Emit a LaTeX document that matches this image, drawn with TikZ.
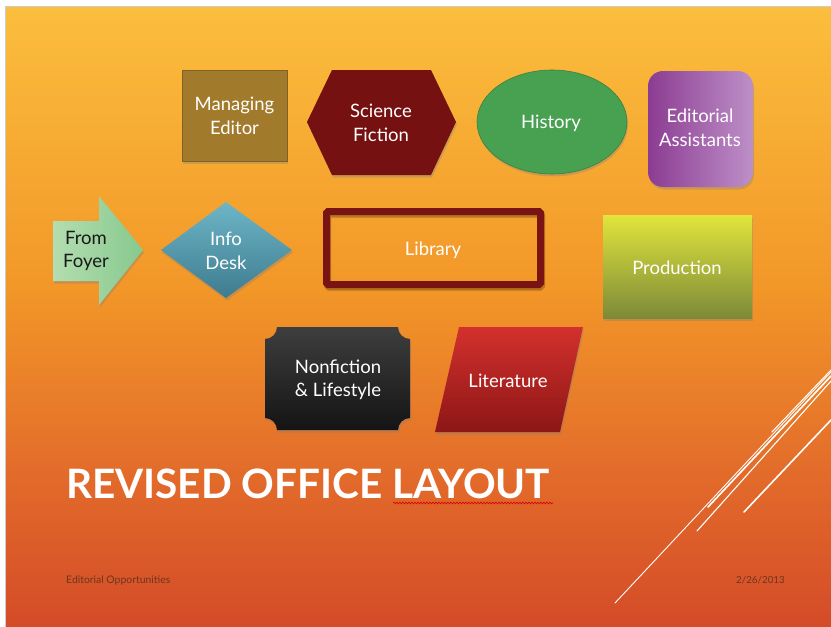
\documentclass[tikz,border=0pt]{standalone}
\usepackage{fontspec}
\setmainfont{Lato}
\usetikzlibrary{shadows,decorations.pathmorphing}
\definecolor{bgtop}{HTML}{FBBE3D}
\definecolor{bgmid}{HTML}{F29628}
\definecolor{bglow}{HTML}{E26A2A}
\definecolor{bgbot}{HTML}{D44B28}
\pgfdeclareverticalshading{slidebg}{100bp}{color(0bp)=(bgbot); color(25bp)=(bgbot); color(37bp)=(bglow); color(52bp)=(bgmid); color(75bp)=(bgtop); color(100bp)=(bgtop)}
\definecolor{mgr}{HTML}{A27A2C}
\definecolor{scifi}{HTML}{751110}
\definecolor{hist}{HTML}{47A151}
\definecolor{edA}{HTML}{8C3C92}
\definecolor{edB}{HTML}{BD90C8}
\definecolor{foyA}{HTML}{B4DDB0}
\definecolor{foyB}{HTML}{86C98E}
\definecolor{infA}{HTML}{6DB6C7}
\definecolor{infB}{HTML}{3E7B8F}
\definecolor{libr}{HTML}{7A1413}
\definecolor{prodA}{HTML}{E2E53C}
\definecolor{prodB}{HTML}{7C8A38}
\definecolor{nfA}{HTML}{3E3E3E}
\definecolor{nfB}{HTML}{141414}
\definecolor{litA}{HTML}{D3312D}
\definecolor{litB}{HTML}{8C1616}
\definecolor{foot}{HTML}{6A3620}
\tikzset{
  lbl/.style={text=white, align=center, font=\fontsize{18.5}{23.5}\selectfont},
  shp/.style={drop shadow={shadow xshift=1pt, shadow yshift=-2.5pt, opacity=0.35}},
  deco/.style={white, line cap=round},
}
\begin{document}
\begin{tikzpicture}[x=1pt,y=-1pt]
\useasboundingbox (0,0) rectangle (831,627);
\fill[white] (0,0) rectangle (831,627);
\shade[shading=slidebg] (6,7) rectangle (831,627);
\draw[black!20, line width=1] (5.5,627) -- (5.5,6.5) -- (831,6.5);

% decorative lines
\draw[deco, line width=0.9] (615,603) -- (831,372);
\draw[deco, line width=1.1] (697,531) -- (831,381);
\draw[deco, line width=1.6] (708,507) -- (831,376);
\draw[deco, line width=1.6] (744,512) -- (831,420);
\draw[deco, line width=1.1] (772,432) -- (831,370);

% Managing Editor
\fill[mgr, shp] (182,70) rectangle (287,161);
\draw[mgr!80!black, line width=0.6] (182,70) rectangle (287,161);
\node[lbl] (mgr) at (234.5,116) {Managing\\Editor};

% Science Fiction
\fill[scifi, shp] (307,122) -- (332,70) -- (431,70) -- (456,122) -- (431,175) -- (332,175) -- cycle;
\node[lbl] (sf) at (381,123) {Science\\Fiction};

% History
\fill[hist, shp] (552,122) ellipse [x radius=75, y radius=52];
\draw[hist!80!black, line width=0.6] (552,122) ellipse [x radius=75, y radius=52];
\node[lbl] (hist) at (551,123) {History};

% Editorial Assistants
\shade[left color=edA, right color=edB, rounded corners=15, shp] (648,71) rectangle (753,187);
\node[lbl] (ed) at (700,128) {Editorial\\Assistants};

% From Foyer
\shade[left color=foyA, right color=foyB, shp] (53,221) -- (99,221) -- (99,196) -- (143,250) -- (99,305) -- (99,281) -- (53,281) -- cycle;
\node[lbl, text=black!90] (foy) at (86,251) {From\\Foyer};

% Info Desk
\shade[top color=infA, bottom color=infB, shp] (161,250) -- (226,202) -- (292,250) -- (226,298) -- cycle;
\node[lbl] (info) at (226,251) {Info\\Desk};

% Library
\draw[black, opacity=0.25, line width=7, rounded corners=1.5] (327.5,214) rectangle (541.5,287);
\draw[libr, line width=7, rounded corners=1.5] (326.5,211.5) rectangle (540.5,284.5);
\node[lbl] (lib) at (433,250) {Library};

% Production
\shade[top color=prodA, middle color=prodA!85!prodB, bottom color=prodB, shp] (603,215) rectangle (752,318);
\node[lbl] (prod) at (677,268) {Production};

% Nonfiction & Lifestyle
\shade[top color=nfA, bottom color=nfB, shp]
  (277,327) -- (398,327) .. controls (398,333.6) and (403.4,339) .. (410,339)
  -- (410,418) .. controls (403.4,418) and (398,423.4) .. (398,430)
  -- (277,430) .. controls (277,423.4) and (271.6,418) .. (265,418)
  -- (265,339) .. controls (271.6,339) and (277,333.6) .. (277,327) -- cycle;
\node[lbl] (nf) at (338,380) {Nonfiction\\\& Lifestyle};

% Literature
\shade[top color=litA, bottom color=litB, shp] (459,327) -- (583,327) -- (560,432) -- (435,432) -- cycle;
\node[lbl] (lit) at (508,381) {Literature};

% Title
\node[anchor=base west, inner sep=0, text=white, font=\fontsize{40.5}{44}\selectfont\bfseries] (title) at (66,498) {REVISED OFFICE LAYOUT};
\coordinate (wavyA) at (393,503);
\coordinate (wavyB) at (553,503);
\draw[red!85!black, line width=0.6, decorate, decoration={snake, amplitude=0.9, segment length=3}] (wavyA) -- (wavyB);

% Footer
\node[anchor=base west, inner sep=0, text=foot, font=\fontsize{10.4}{12}\selectfont] (fl) at (66,583) {Editorial Opportunities};
\node[anchor=base east, inner sep=0, text=foot, font=\fontsize{9.8}{12}\selectfont] (fr) at (785,583) {2/26/2013};
\end{tikzpicture}
\end{document}
